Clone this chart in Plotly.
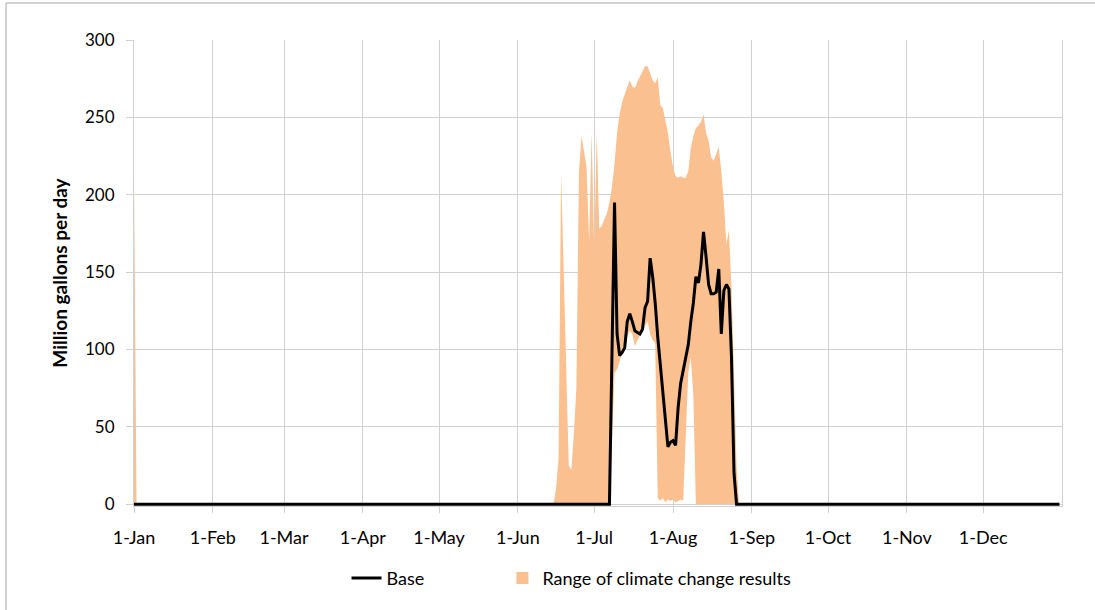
import pandas as pd
import plotly.graph_objects as go

# daily values, year shown as a generic non-leap year
year_start = "2001-01-01"
year_end = "2002-01-01"

# 1 Jan spike in the climate change range (upper bound only)
jan1_range_hi = 212

# summer window, one value per day starting 13-Jun
summer_start = "2001-06-13"
range_hi = [0, 0, 0, 10, 30, 214, 150, 80, 25, 22, 45, 75, 214, 238, 228, 218,
            170, 240, 165, 240, 178, 180, 184, 188, 195, 205, 220, 240, 252, 260,
            265, 270, 274, 270, 269, 273, 276, 280, 283, 283, 278, 274, 272, 276,
            258, 256, 248, 240, 228, 218, 212, 211, 212, 211, 211, 215, 230, 238,
            243, 245, 247, 252, 240, 235, 224, 222, 226, 231, 215, 195, 168, 177,
            140, 85, 25, 0]
range_lo = [0, 0, 0, 0, 0, 0, 0, 0, 0, 0, 0, 0, 0, 0, 0, 0,
            0, 0, 0, 0, 0, 0, 0, 0, 0, 40, 85, 87, 92, 100,
            104, 108, 112, 110, 102, 106, 109, 112, 115, 118, 110, 106, 104, 4,
            2, 4, 1, 3, 2, 3, 1, 2, 3, 2, 50, 85, 95, 70,
            0, 0, 0, 0, 0, 0, 0, 0, 0, 0, 0, 0, 0, 0,
            0, 0, 0, 0]
base = [0, 0, 0, 0, 0, 0, 0, 0, 0, 0, 0, 0, 0, 0, 0, 0,
        0, 0, 0, 0, 0, 0, 0, 0, 0, 97, 195, 110, 96, 98,
        101, 118, 123, 118, 112, 111, 110, 113, 127, 131, 159, 147, 130, 108,
        90, 75, 55, 37, 40, 41, 38, 62, 78, 87, 96, 103, 118, 130,
        147, 143, 155, 176, 160, 142, 136, 136, 137, 152, 110, 138, 142, 139,
        95, 20, 0, 0]

month_ticks = pd.date_range(year_start, periods=12, freq="MS")
month_labels = ["1-" + d.strftime("%b") for d in month_ticks]

# build full-year series
days = pd.date_range(year_start, "2001-12-31", freq="D")
df = pd.DataFrame({"date": days, "hi": 0.0, "lo": 0.0, "base": 0.0}).set_index("date")
summer_days = pd.date_range(summer_start, periods=len(range_hi), freq="D")
df.loc[summer_days, "hi"] = range_hi
df.loc[summer_days, "lo"] = range_lo
df.loc[summer_days, "base"] = base
df.loc[pd.Timestamp(year_start), "hi"] = jan1_range_hi

orange = "#FAC090"
grid = "#d0d0d0"
font = "Lato"

fig = go.Figure()

# range of climate change results (filled between min and max)
fig.add_trace(go.Scatter(
    x=df.index, y=df["lo"], mode="lines", line=dict(width=0),
    showlegend=False, hoverinfo="skip"
))
fig.add_trace(go.Scatter(
    x=df.index, y=df["hi"], mode="lines", line=dict(width=0),
    fill="tonexty", fillcolor=orange, showlegend=False, hoverinfo="skip"
))

# base
fig.add_trace(go.Scatter(
    x=df.index, y=df["base"], mode="lines", name="Base",
    line=dict(color="black", width=3), legend="legend"
))

# legend entry for the range
fig.add_trace(go.Scatter(
    x=[None], y=[None], mode="markers", name="Range of climate change results",
    marker=dict(symbol="square", size=12, color=orange), legend="legend2"
))

legend_style = dict(
    orientation="h", xanchor="left", y=-0.155, yanchor="middle",
    font=dict(size=18), itemwidth=30, bgcolor="rgba(0,0,0,0)"
)

fig.update_layout(
    width=1095, height=610,
    margin=dict(l=134, r=33, t=40, b=104),
    paper_bgcolor="white",
    plot_bgcolor="white",
    font=dict(family=font, size=17, color="black"),
    legend=dict(legend_style, x=0.229),
    legend2=dict(legend_style, x=0.397),
    shapes=[dict(
        type="rect", xref="paper", yref="paper",
        x0=-0.1379, x1=1.05, y0=-0.3, y1=1.0794,
        line=dict(color="#a6a6a6", width=1), layer="below"
    )]
)

fig.update_xaxes(
    type="date", range=[year_start, year_end],
    tickvals=month_ticks, ticktext=month_labels,
    tickfont=dict(size=18),
    showgrid=True, gridcolor=grid, gridwidth=1,
    showline=True, linecolor=grid,
    ticks="outside", ticklen=6, tickcolor=grid,
    ticklabelstandoff=9, zeroline=False
)
fig.update_yaxes(
    range=[-1.2, 300], dtick=50,
    tickfont=dict(size=17),
    showgrid=True, gridcolor=grid, gridwidth=1,
    showline=True, linecolor=grid, mirror=True,
    ticks="outside", ticklen=7, tickcolor=grid,
    ticklabelstandoff=8, zeroline=False,
    title=dict(text="<b>Million gallons per day</b>", font=dict(size=19), standoff=12)
)

# page body has a default margin; drop it so the figure sits at the window corner
fig.write_html("out.html", config={"displayModeBar": False},
               post_script="document.body.style.margin='0';")
